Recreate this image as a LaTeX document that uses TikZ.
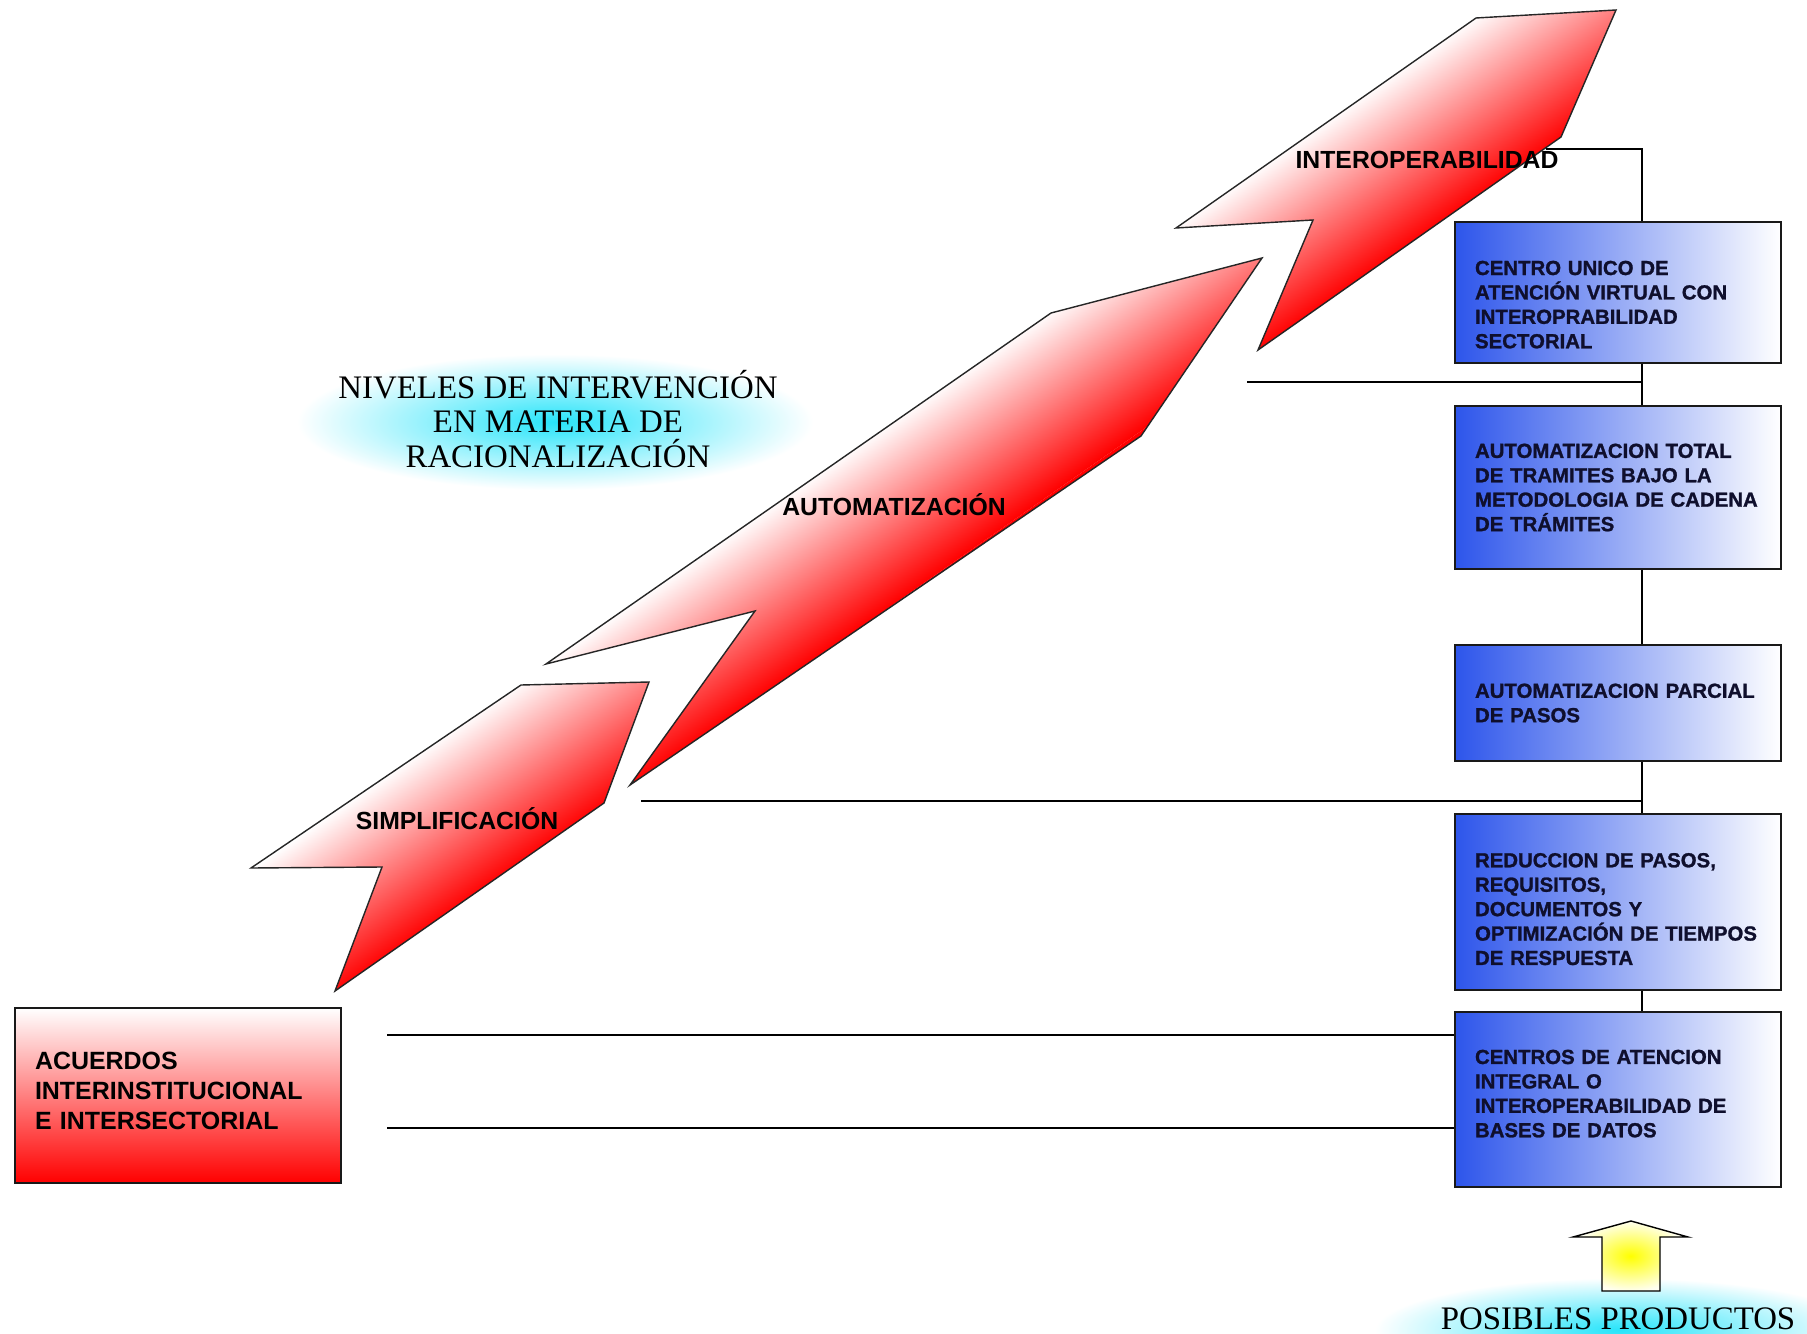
\documentclass[tikz,border=0pt]{standalone}
\usepackage{fontspec}
\setmainfont{Liberation Serif}
\newfontfamily\arial{Liberation Sans}
\newfontfamily\arialheavy{Liberation Sans Bold}[FakeBold=1.2]
\definecolor{boxblue}{RGB}{45,85,235}
\definecolor{boxtext}{RGB}{15,15,45}
\definecolor{arrowmid}{RGB}{250,175,175}
\definecolor{glowcyan}{RGB}{40,228,250}
\newcommand{\levelarrow}[4]{%
  \begin{scope}
    \clip #1;
    \begin{scope}[transform canvas={shift={#2}, rotate=#3}]
      \shade[top color=white, middle color=arrowmid, bottom color=red] (-700,-#4) rectangle (700,#4);
      \fill[red] (-700,#4) rectangle (700,#4+150);
    \end{scope}
  \end{scope}
  \draw[arrowline] #1;
}
\tikzset{
  arrowline/.style={draw=black!85, line width=0.8pt, line join=miter},
  conn/.style={draw=black, line width=1.1pt},
  bluebox/.style={draw=black!90, line width=1pt, left color=boxblue, right color=white,
    minimum width=6.52cm, text width=5.72cm, inner xsep=0.4cm, inner ysep=0pt, align=left,
    font=\arialheavy\fontsize{11.6}{13.9}\selectfont, text=boxtext},
  redbox/.style={draw=black!90, line width=1pt, top color=white, bottom color=red,
    minimum width=6.52cm, minimum height=3.5cm, text width=5.72cm, inner xsep=0.4cm, align=left,
    font=\arial\bfseries\fontsize{14.2}{17}\selectfont},
  arrowlabel/.style={font=\arial\bfseries\fontsize{14.1}{16}\selectfont, inner sep=0pt},
  serifcap/.style={font=\fontsize{18.7}{19.8}\selectfont, align=center, inner sep=0pt},
}
\begin{document}
\begin{tikzpicture}[x=0.02cm, y=-0.02cm]
\useasboundingbox[fill=white] (0,0) rectangle (1807,1334);

% glows
\shade[inner color=glowcyan, outer color=white] (555,422) ellipse (258 and 68);
\shade[inner color=glowcyan, outer color=white] (1620,1330) ellipse (245 and 52);

% level arrows
\levelarrow{(251,868) -- (521,685) -- (649,682) -- (604,803) -- (335,991) -- (382,867) -- cycle}{(428,838)}{35}{76}
\levelarrow{(546,664) -- (1051,313) -- (1262,258) -- (1141,436) -- (630,785) -- (755,611) -- cycle}{(840,549)}{35}{76}
\levelarrow{(1176,228) -- (1476,18) -- (1616,10) -- (1561,137) -- (1258,350) -- (1313,220) -- cycle}{(1368,183)}{35}{76}

% boxes
\node[redbox] (acuerdos) at (178,1095.5) {ACUERDOS\\INTERINSTITUCIONAL\\E INTERSECTORIAL\rule[-0.2cm]{0pt}{0.2cm}};
\node[bluebox, minimum height=2.82cm] (b1) at (1618,292.5) {\rule{0pt}{0.77cm}CENTRO UNICO DE\\ATENCIÓN VIRTUAL CON\\INTEROPRABILIDAD\\SECTORIAL};
\node[bluebox, minimum height=3.26cm] (b2) at (1618,487.5) {AUTOMATIZACION TOTAL\\DE TRAMITES BAJO LA\\METODOLOGIA~DE~CADENA\\DE TRÁMITES};
\node[bluebox, minimum height=2.32cm] (b3) at (1618,703) {AUTOMATIZACION~PARCIAL\\DE PASOS};
\node[bluebox, minimum height=3.52cm] (b4) at (1618,902) {\rule{0pt}{0.57cm}REDUCCION DE PASOS,\\REQUISITOS,\\DOCUMENTOS Y\\OPTIMIZACIÓN~DE~TIEMPOS\\DE RESPUESTA};
\node[bluebox, minimum height=3.5cm] (b5) at (1618,1099.5) {CENTROS DE ATENCION\\INTEGRAL O\\INTEROPERABILIDAD DE\\BASES DE DATOS\rule[-0.24cm]{0pt}{0.24cm}};

% connectors
\coordinate (sp) at (1642,0);
\coordinate (c0) at (1546,149);
\coordinate (c1) at (1247,382);
\coordinate (c2) at (641,801);
\coordinate (c3) at (387,1035);
\coordinate (c4) at (387,1128);
\draw[conn] (c0) -- (sp |- c0) -- (sp |- b1.north);
\draw[conn] (sp |- b1.south) -- (sp |- b2.north);
\draw[conn] (sp |- b2.south) -- (sp |- b3.north);
\draw[conn] (sp |- b3.south) -- (sp |- b4.north);
\draw[conn] (sp |- b4.south) -- (sp |- b5.north);
\draw[conn] (c1) -- (sp |- c1);
\draw[conn] (c2) -- (sp |- c2);
\draw[conn] (c3) -- (b5.west |- c3);
\draw[conn] (c4) -- (b5.west |- c4);

% labels
\node[arrowlabel] (lsimp) at (457,819) {SIMPLIFICACIÓN};
\node[arrowlabel] (lauto) at (894,505) {AUTOMATIZACIÓN};
\node[arrowlabel] (linter) at (1427,160) {INTEROPERABILIDAD};
\node[serifcap] (title) at (558,419) {NIVELES DE INTERVENCIÓN\\EN MATERIA DE\\RACIONALIZACIÓN};

% yellow arrow and caption
\shade[draw=black, line width=0.8pt, inner color=yellow, outer color=yellow!6!white]
  (1631,1221) -- (1688,1237) -- (1660,1237) -- (1660,1291) -- (1602,1291) -- (1602,1237) -- (1573,1237) -- cycle;
\node[serifcap] (posibles) at (1618,1319) {POSIBLES PRODUCTOS};
\end{tikzpicture}
\end{document}
